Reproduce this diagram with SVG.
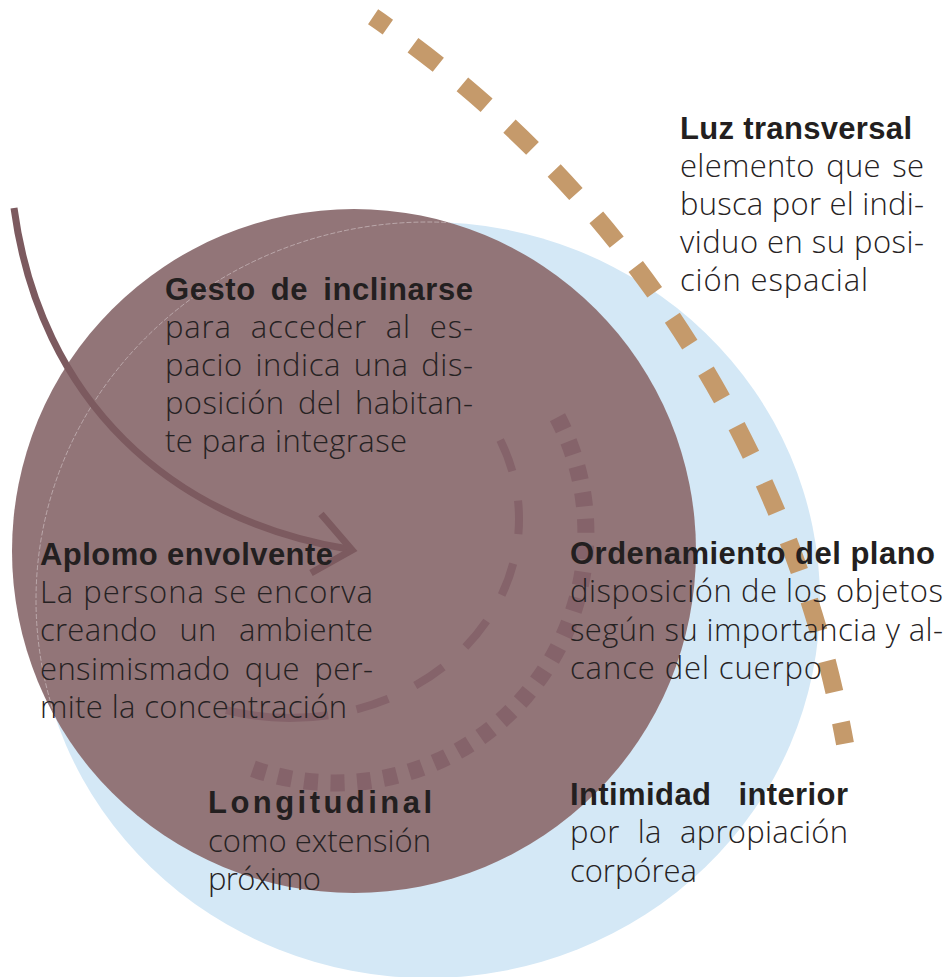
<svg xmlns="http://www.w3.org/2000/svg" width="949" height="977" viewBox="0 0 949 977">
<style>
.h{font-family:"Liberation Sans",Arial,sans-serif;font-weight:700;font-size:31px;fill:#231f20}
.t{font-family:"Open Sans","Liberation Sans",sans-serif;font-weight:300;font-size:31px;fill:#262223}
.dash-light{fill:none;stroke:#c59a6b;stroke-width:18}
.dots{fill:none;stroke:#85636a;stroke-width:17}
.inner{fill:none;stroke:#85636a;stroke-width:8}
.arrow{fill:none;stroke:#7c5a5f;stroke-width:7}
</style>
<defs>
<clipPath id="mauveClip"><circle cx="354" cy="551" r="342"/></clipPath>
</defs>
<rect width="949" height="977" fill="#ffffff"/>
<g id="blue-field">
<ellipse cx="428" cy="600" rx="392" ry="378" fill="#d4e8f6"/>
</g>
<g id="mauve-field">
<circle cx="354" cy="551" r="342" fill="#927578"/>
<ellipse cx="428" cy="600" rx="392" ry="378" fill="none" stroke="#e8dfe1" stroke-width="0.8" stroke-dasharray="5 2" opacity="0.6" clip-path="url(#mauveClip)"/>
</g>
<g id="connectors">
<path id="light-path" class="dash-light" d="M 373.1 16.8 A 1120 1120 0 0 1 845 743.7" stroke-dasharray="32 31" stroke-dashoffset="14"/>
<path id="order-arc" class="dots" d="M 557.5 417.2 A 250 250 0 0 1 253 768.8" stroke-dasharray="14 12.54"/>
<path id="inner-arc" class="inner" d="M 500.2 440 A 229 199 0 0 1 355.8 709.6" stroke-dasharray="33.5 30"/>
<path id="inner-arc-end" class="inner" d="M 328.2 715.2 A 229 199 0 0 1 226.1 710.1"/>
<path id="gesture-arrow" class="arrow" d="M 14 208 C 40 400 170 520 348 549"/>
<path id="gesture-arrowhead" class="arrow" d="M 321 514 L 352 550 L 311 573"/>
</g>
<g id="luz-transversal">
<text class="h" x="680" y="138.5" textLength="232" lengthAdjust="spacing">Luz transversal</text>
<text class="t" x="680" y="176.7" textLength="244" lengthAdjust="spacing" word-spacing="3">elemento que se</text>
<text class="t" x="680" y="214.9" textLength="244" lengthAdjust="spacing">busca por el indi-</text>
<text class="t" x="680" y="253.1" textLength="244" lengthAdjust="spacing">viduo en su posi-</text>
<text class="t" x="680" y="291.3" textLength="188" lengthAdjust="spacing">ción espacial</text>
</g>
<g id="gesto-inclinarse">
<text class="h" x="165" y="299.5" textLength="308" lengthAdjust="spacing" word-spacing="6">Gesto de inclinarse</text>
<text class="t" x="165" y="337.7" textLength="308" lengthAdjust="spacing" word-spacing="10">para acceder al es-</text>
<text class="t" x="165" y="375.9" textLength="308" lengthAdjust="spacing" word-spacing="4">pacio indica una dis-</text>
<text class="t" x="165" y="414.1" textLength="308" lengthAdjust="spacing" word-spacing="5">posición del habitan-</text>
<text class="t" x="165" y="452.3" textLength="242" lengthAdjust="spacing">te para integrase</text>
</g>
<g id="aplomo-envolvente">
<text class="h" x="40" y="565" textLength="293" lengthAdjust="spacing">Aplomo envolvente</text>
<text class="t" x="40" y="603.2" textLength="333" lengthAdjust="spacing">La persona se encorva</text>
<text class="t" x="40" y="641.4" textLength="333" lengthAdjust="spacing" word-spacing="14">creando un ambiente</text>
<text class="t" x="40" y="679.6" textLength="333" lengthAdjust="spacing" word-spacing="6">ensimismado que per-</text>
<text class="t" x="40" y="717.8" textLength="307" lengthAdjust="spacing">mite la concentración</text>
</g>
<g id="ordenamiento-plano">
<text class="h" x="570" y="564" textLength="365" lengthAdjust="spacing">Ordenamiento del plano</text>
<text class="t" x="570" y="602" textLength="373" lengthAdjust="spacing">disposición de los objetos</text>
<text class="t" x="570" y="640.5" textLength="373" lengthAdjust="spacing">según su importancia y al-</text>
<text class="t" x="570" y="679" textLength="252" lengthAdjust="spacing">cance del cuerpo</text>
</g>
<g id="longitudinal">
<text class="h" x="208" y="812.7" textLength="224" lengthAdjust="spacing">Longitudinal</text>
<text class="t" x="208" y="851.5" textLength="223" lengthAdjust="spacing">como extensión</text>
<text class="t" x="208" y="889.5" textLength="113" lengthAdjust="spacing">próximo</text>
</g>
<g id="intimidad-interior">
<text class="h" x="570" y="805" textLength="278" lengthAdjust="spacing" word-spacing="18">Intimidad interior</text>
<text class="t" x="570" y="843.3" textLength="278" lengthAdjust="spacing" word-spacing="10">por la apropiación</text>
<text class="t" x="570" y="881.7" textLength="127" lengthAdjust="spacing">corpórea</text>
</g>
</svg>
